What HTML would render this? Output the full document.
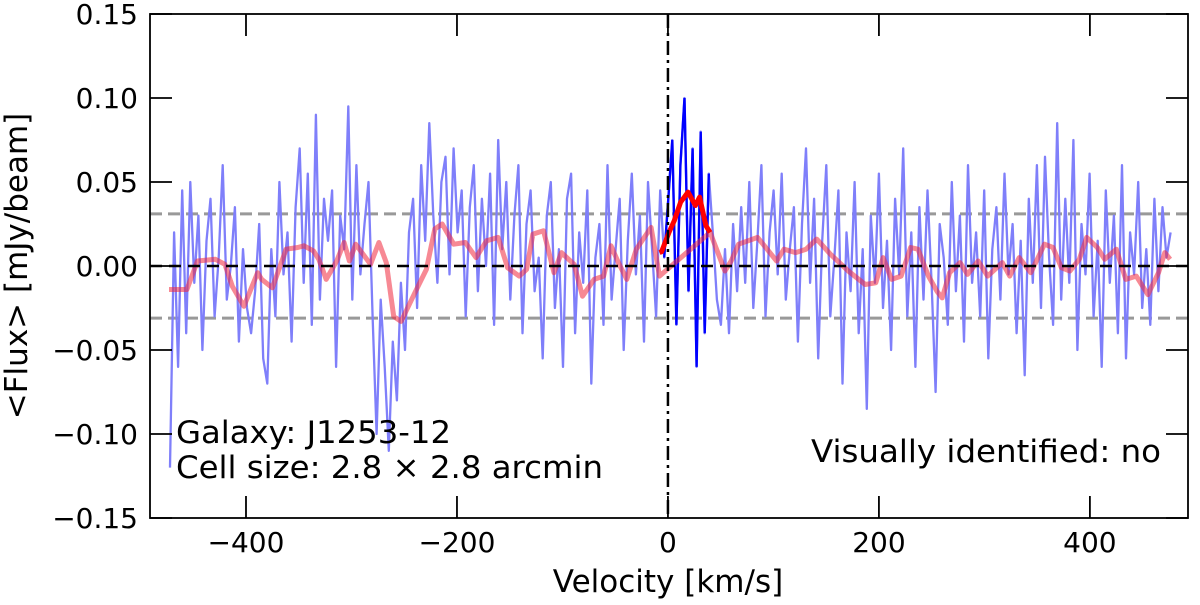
<!DOCTYPE html>
<html><head><meta charset="utf-8"><style>
body{margin:0;background:#fff;}
svg text{font-family:"DejaVu Sans","Liberation Sans",sans-serif;fill:#000;}
</style></head><body>
<svg id="chart" width="1200" height="600" viewBox="0 0 1200 600" xmlns="http://www.w3.org/2000/svg"></svg>
<script>
// ---- data ----
const chanStart = -472, chanStep = 3.84;
const fluxMilli = [
-120,20,-60,45,-40,50,-10,30,-50,15,40,-30,5,60,-20,0,35,-45,10,-25,
-40,-15,25,-55,-70,10,-30,50,-5,20,-45,35,70,-10,55,-35,90,-20,40,15,
45,-60,30,10,95,-20,60,-5,25,50,-30,-100,-20,-60,-110,-45,-80,-10,-50,20,
40,-25,60,15,85,30,-10,50,65,-5,70,20,45,-30,35,60,-15,40,0,55,
-35,75,10,50,-20,30,60,-40,25,45,-15,5,-55,30,50,-25,10,-60,40,55,
-40,20,-10,45,-70,5,25,-35,60,-20,10,40,-50,15,55,-5,30,-45,50,10,
-30,45,5,40,75,-35,60,100,-15,70,-60,80,-40,55,20,
-20,-35,10,-40,25,-15,35,-10,50,-25,15,60,-30,20,45,-5,55,-20,10,35,
-45,25,70,-10,40,-55,15,60,-30,5,45,-70,20,-15,50,-40,10,-85,30,-10,
55,-25,15,-50,40,-5,70,-30,20,-60,35,-20,45,-10,-75,25,5,-35,50,-15,
30,-45,60,-10,20,-30,45,-55,10,35,-20,55,-5,25,-40,15,-65,40,-10,60,
-25,65,5,-35,85,-20,40,-10,75,-50,25,-5,55,-30,15,-60,45,-10,30,-40,
60,-55,20,-5,50,-25,10,-35,40,-15,35,5,20];
const sourceRange = [-4, 40];
const smoothV = [-473,-456,-446,-429,-420,-413,-402,-389,-385,-375,-362,-351,-345,-336,-331,-324,-314,-307,-302,-296,-282,-274,-267,-260,-253,-240,-229,-221,-214,-203,-192,-182,-172,-161,-152,-141,-134,-128,-118,-108,-101,-89,-81,-70,-61,-54,-47,-39,-30,-16,-8,
40,54,60,67,85,94,103,110,121,131,141,154,171,187,197,204,212,221,230,237,247,255,260,267,277,284,294,303,317,324,333,344,357,365,373,381,390,397,407,414,425,434,444,455,465,471,476];
const smoothY = [-0.014,-0.014,0.003,0.004,0.001,-0.012,-0.024,-0.004,-0.008,-0.013,0.010,0.011,0.012,0.009,0.004,-0.008,0.003,0.014,0.003,0.013,0.001,0.014,0.002,-0.030,-0.033,-0.016,-0.002,0.022,0.025,0.013,0.014,0.005,0.015,0.017,-0.001,-0.006,-0.002,0.019,0.021,-0.004,0.008,0.001,-0.018,-0.008,-0.006,0.012,0.002,-0.008,0.010,0.023,-0.006,
0.020,-0.003,0.003,0.013,0.017,0.010,0.003,0.010,0.008,0.010,0.016,0.007,-0.003,-0.011,-0.010,0.005,-0.008,-0.006,0.011,0.010,-0.006,-0.015,-0.019,-0.004,0.002,-0.005,0.003,-0.006,0.002,-0.006,0.005,-0.004,0.013,0.011,-0.001,-0.003,0.004,0.017,0.011,0.004,0.010,-0.008,-0.006,-0.017,-0.004,0.008,0.004];
const srcSmoothV = [-8,-6,1,6,12,19,26,30,36,40];
const srcSmoothY = [0.008,0.0085,0.020,0.027,0.038,0.044,0.036,0.041,0.024,0.020];
const rmsLevel = 0.031;
const xTicks = [-400,-200,0,200,400];
const xTickLabels = ["−400","−200","0","200","400"];
const yTicks = [-0.15,-0.10,-0.05,0,0.05,0.10,0.15];
const yTickLabels = ["−0.15","−0.10","−0.05","0.00","0.05","0.10","0.15"];

// ---- axes ----
const L=150,R=1188,T=14,B=518;
const xMin=-491,xMax=493,yMin=-0.15,yMax=0.15;
const X=v=>L+(v-xMin)/(xMax-xMin)*(R-L);
const Y=f=>B-(f-yMin)/(yMax-yMin)*(B-T);
const svg=document.getElementById('chart');
const NS='http://www.w3.org/2000/svg';
function mk(tag,attrs,parent){const e=document.createElementNS(NS,tag);for(const k in attrs)e.setAttribute(k,attrs[k]);(parent||svg).appendChild(e);return e;}

const clip=mk('clipPath',{id:'pc'});mk('rect',{x:L,y:T,width:R-L,height:B-T},clip);
const g=mk('g',{'clip-path':'url(#pc)'});



[rmsLevel,-rmsLevel].forEach((r,i)=>{
 const l=mk('line',{x1:L,x2:R,y1:Y(r),y2:Y(r),stroke:'#999','stroke-width':3,'stroke-dasharray':'12 6'},g);
 
 
});

let pts=fluxMilli.map((f,i)=>X(chanStart+i*chanStep).toFixed(1)+','+Y(f/1000).toFixed(1)).join(' ');
const spec=mk('polyline',{points:pts,fill:'none',stroke:'#7f7ffa','stroke-width':2.3,'stroke-linejoin':'round'},g);



let sp=[];fluxMilli.forEach((f,i)=>{const v=chanStart+i*chanStep;if(v>=sourceRange[0]&&v<=sourceRange[1])sp.push(X(v).toFixed(1)+','+Y(f/1000).toFixed(1));});
const src=mk('polyline',{points:sp.join(' '),fill:'none',stroke:'#0000ff','stroke-width':2.4},g);



const sm=mk('polyline',{points:smoothV.map((v,i)=>X(v).toFixed(1)+','+Y(smoothY[i]).toFixed(1)).join(' '),fill:'none',stroke:'rgba(240,40,60,0.55)','stroke-width':5,'stroke-linejoin':'round'},g);


const ss=mk('polyline',{points:srcSmoothV.map((v,i)=>X(v).toFixed(1)+','+Y(srcSmoothY[i]).toFixed(1)).join(' '),fill:'none',stroke:'#ff0000','stroke-width':5,'stroke-linejoin':'round'},g);



const z=mk('line',{x1:L,x2:R,y1:Y(0),y2:Y(0),stroke:'#000','stroke-width':2.5,'stroke-dasharray':'12 7'},g);


const vl=mk('line',{x1:X(0),x2:X(0),y1:T,y2:B,stroke:'#000','stroke-width':2.5,'stroke-dasharray':'14 5 3 5'},g);



const fr=mk('rect',{x:L,y:T,width:R-L,height:B-T,fill:'none',stroke:'#000','stroke-width':1.8});



const TL=22;
xTicks.forEach((t,i)=>{
 mk('line',{x1:X(t),x2:X(t),y1:B,y2:B-TL,stroke:'#000','stroke-width':1.8});
 mk('line',{x1:X(t),x2:X(t),y1:T,y2:T+TL,stroke:'#000','stroke-width':1.8});
 const tx=mk('text',{x:X(t),y:B+34,'font-size':28,'text-anchor':'middle'});tx.textContent=xTickLabels[i];
 
 
});
yTicks.forEach((t,i)=>{
 mk('line',{x1:L,x2:L+TL,y1:Y(t),y2:Y(t),stroke:'#000','stroke-width':1.8});
 mk('line',{x1:R,x2:R-TL,y1:Y(t),y2:Y(t),stroke:'#000','stroke-width':1.8});
 const tx=mk('text',{x:L-12,y:Y(t)+10,'font-size':28,'text-anchor':'end'});tx.textContent=yTickLabels[i];
 
 
});

const xl=mk('text',{x:668,y:592,'font-size':31,'text-anchor':'middle'});xl.textContent='Velocity [km/s]';


const yl=mk('text',{x:0,y:0,'font-size':31,'text-anchor':'middle',transform:'translate(27,266) rotate(-90)'});yl.textContent='<Flux> [mJy/beam]';


const a1=mk('text',{x:176,y:443,'font-size':31,textLength:275,lengthAdjust:'spacingAndGlyphs'});a1.textContent='Galaxy: J1253-12';


const a2=mk('text',{x:176,y:478,'font-size':31,textLength:427,lengthAdjust:'spacingAndGlyphs'});a2.textContent='Cell size: 2.8 × 2.8 arcmin';


const a3=mk('text',{x:811,y:462,'font-size':31,textLength:350,lengthAdjust:'spacingAndGlyphs'});a3.textContent='Visually identified: no';


</script>
</body></html>
